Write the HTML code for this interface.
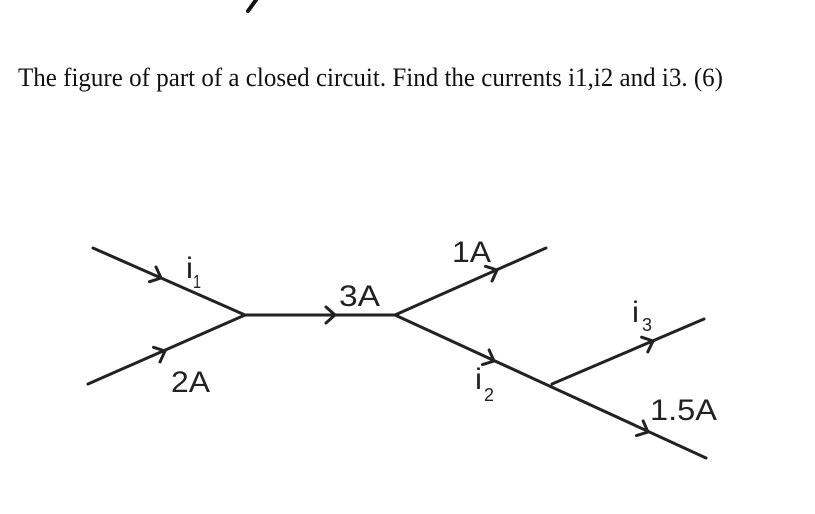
<!DOCTYPE html>
<html><head><meta charset="utf-8"><style>
html,body{margin:0;padding:0;background:#fff;}
svg{display:block;}
</style></head><body>
<svg width="815" height="514" viewBox="0 0 815 514" xmlns="http://www.w3.org/2000/svg">
<rect width="815" height="514" fill="#fff"/>
<path d="M256 0 L248 11" stroke="#111" stroke-width="4" stroke-linecap="round"/>
<text x="18" y="86" font-family="Liberation Serif, serif" font-size="26" fill="#111" textLength="705" lengthAdjust="spacingAndGlyphs">The figure of part of a closed circuit. Find the currents i1,i2 and i3. (6)</text>
<g stroke="#222" stroke-width="3" fill="none" stroke-linecap="round" stroke-linejoin="miter">
<line x1="93" y1="248" x2="245" y2="315"/>
<line x1="88" y1="384" x2="245" y2="315"/>
<line x1="245" y1="315" x2="395" y2="315"/>
<line x1="395" y1="315" x2="546" y2="248"/>
<line x1="395" y1="315" x2="706" y2="458"/>
<line x1="552" y1="384" x2="704" y2="319"/>
<polyline points="-9,-8 0,0 -9,8" transform="translate(161,278) rotate(23.8)"/>
<polyline points="-9,-8 0,0 -9,8" transform="translate(165,351) rotate(-23.7)"/>
<polyline points="-9,-8 0,0 -9,8" transform="translate(335,315)"/>
<polyline points="-9,-8 0,0 -9,8" transform="translate(497,270) rotate(-24)"/>
<polyline points="-9,-8 0,0 -9,8" transform="translate(494,361) rotate(24.7)"/>
<polyline points="-9,-8 0,0 -9,8" transform="translate(653,341) rotate(-23)"/>
<polyline points="-9,-8 0,0 -9,8" transform="translate(648,432) rotate(24.7)"/>
</g>
<g font-family="Liberation Sans, sans-serif" fill="#222">
<text x="186" y="278" font-size="30" textLength="7" lengthAdjust="spacingAndGlyphs">i</text>
<text x="193" y="288" font-size="18" textLength="8" lengthAdjust="spacingAndGlyphs">1</text>
<text x="171" y="392" font-size="30" textLength="39" lengthAdjust="spacingAndGlyphs">2A</text>
<text x="339" y="306" font-size="30" textLength="41" lengthAdjust="spacingAndGlyphs">3A</text>
<text x="452" y="262" font-size="30" textLength="39" lengthAdjust="spacingAndGlyphs">1A</text>
<text x="475" y="389" font-size="30" textLength="7" lengthAdjust="spacingAndGlyphs">i</text>
<text x="484" y="401" font-size="18" textLength="10" lengthAdjust="spacingAndGlyphs">2</text>
<text x="632" y="322" font-size="30" textLength="7" lengthAdjust="spacingAndGlyphs">i</text>
<text x="642" y="331" font-size="18" textLength="10" lengthAdjust="spacingAndGlyphs">3</text>
<text x="650" y="420" font-size="30" textLength="67" lengthAdjust="spacingAndGlyphs">1.5A</text>
</g>
</svg>
</body></html>
